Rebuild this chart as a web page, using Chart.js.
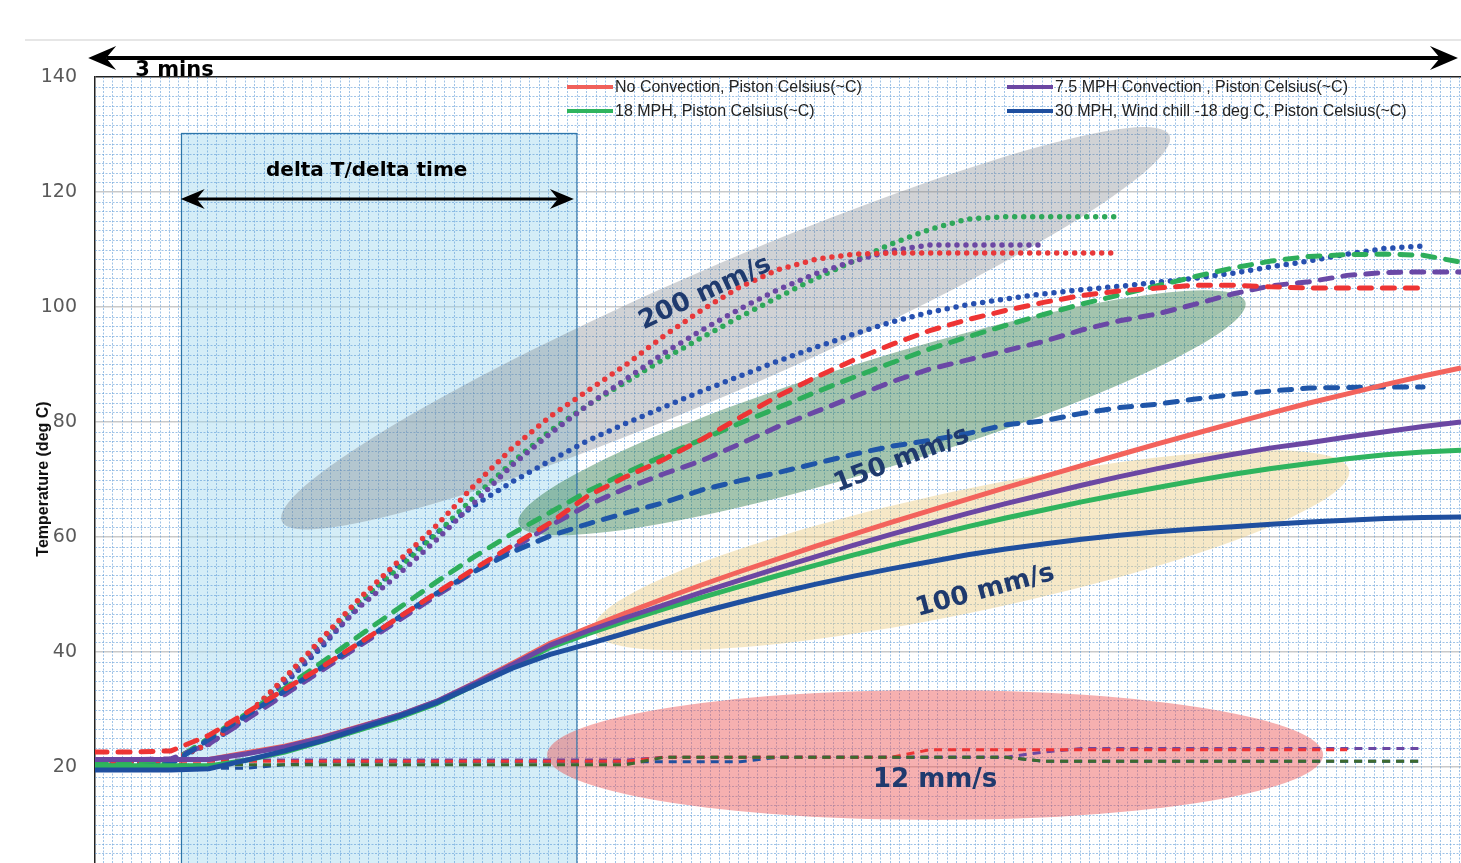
<!DOCTYPE html>
<html>
<head>
<meta charset="utf-8">
<script src="https://cdn.jsdelivr.net/npm/chart.js@4.4.1/dist/chart.umd.min.js"></script>
<style>
  html, body { margin: 0; padding: 0; background: #fff; overflow: hidden; }
  #wrap { width: 1461px; height: 900px; }
</style>
</head>
<body>
<div id="wrap"><canvas id="chart" width="1461" height="900"></canvas></div>
<script>
// time in seconds (the whole plot spans 3 minutes)
const seconds = [0,5,10,15,20,25,30,35,40,45,50,55,60,65,70,75,80,85,90,95,100,105,110,115,120,125,130,135,140,145,150,155,160,165,170,175,180];

// 100 mm/s (solid)
const red100    = [21.3,21.3,21.3,21.3,22.5,23.6,25.2,27.1,29,31.4,34.6,38,41.5,44.2,46.8,49.3,51.7,54,56.2,58.4,60.5,62.6,64.6,66.6,68.6,70.5,72.4,74.3,76.2,78,79.8,81.6,83.3,84.9,86.5,88,89.4];
const purple100 = [21.3,21.3,21.3,21.3,22.3,23.5,25.1,27,29,31.4,34.5,37.8,41.2,43.7,46,48.2,50.4,52.5,54.6,56.6,58.6,60.5,62.3,64.1,65.8,67.4,69,70.5,71.9,73.2,74.4,75.5,76.4,77.4,78.3,79.2,80];
const green100  = [20.2,20.2,20.2,20.2,21.2,22.6,24.5,26.5,28.6,31,34.2,37.4,40.8,43.2,45.4,47.5,49.5,51.4,53.3,55.1,56.9,58.6,60.2,61.8,63.3,64.7,66.1,67.4,68.6,69.8,70.9,71.9,72.8,73.6,74.3,74.8,75.1];
const blue100   = [19.5,19.5,19.5,19.7,21.2,22.8,24.6,26.7,28.8,31.2,34.2,37.2,39.6,41.4,43.3,45.2,47,48.7,50.3,51.8,53.2,54.5,55.7,56.9,57.9,58.8,59.6,60.3,60.9,61.4,61.8,62.2,62.6,62.9,63.2,63.4,63.5];

// 150 mm/s (dashed)
const red150    = [22.6,22.6,22.8,25.5,29.5,33.5,37.5,41.7,46,50.3,54.5,58.5,62.5,67.2,70.5,73.5,77,80.8,84.5,87.8,90.8,93.5,95.9,97.8,99.4,100.8,102,102.8,103.3,103.8,103.8,103.5,103.3,103.3,103.3,103.3,null];
const purple150 = [21.3,21.3,21.4,24,28.3,32.6,36.9,41.2,45.5,49.8,54,58,62,65.6,68.5,71,73.3,76.2,79.2,81.8,84.4,87,89.2,90.8,92.4,94,96,97.6,98.8,100.5,102.3,103.7,104.4,105.5,106,106.1,106.1];
const green150  = [20.5,20.5,20.8,25,29.3,33.7,38.3,43,47.6,52.2,56.6,60.6,64.3,68,71.2,74.2,77,79.8,82.5,85.2,87.8,90.3,92.7,94.8,96.8,98.7,100.5,102.1,103.7,105.3,106.8,108,108.8,109.1,109.2,109,107.8];
const blue150   = [20,20,20.5,24.8,29,33.2,37.4,41.6,46,50.2,54,57.4,60.2,62.3,64.2,66,68.2,69.8,71.2,72.8,74.4,75.8,76.8,78,79.5,80.2,81.5,82.5,83.1,84,84.8,85.4,85.9,86,86.1,86.1,null];

// 200 mm/s (dotted)
const red200    = [21,21,21.2,24,29,35.5,42.5,49.5,55.8,62,69,75.5,81,85.5,90,95,99.5,103.5,106.5,108.3,109.2,109.4,109.4,109.4,109.4,109.4,109.4,109.4,null,null,null,null,null,null,null,null,null];
const purple200 = [21,21,21.2,24,29,35,41.5,48,53.5,59.5,66,72.5,78,83,87.5,92,96,99.7,103,105.8,108,109.8,110.8,110.8,110.8,110.8,null,null,null,null,null,null,null,null,null,null,null];
const green200  = [21,21,21.2,24,29,35.3,42,49,54.5,60.5,67,73,78.5,83,87,91,94.7,98.3,101.7,105,108,111,113.5,115.3,115.7,115.7,115.7,115.7,null,null,null,null,null,null,null,null,null];
const blue200   = [20.8,20.8,21,24,28.5,34.5,41,48.4,55.2,60.7,65.5,69.6,73.3,76.8,79.8,82.6,85.4,88,90.6,93,95.3,97.4,99.1,100.4,101.4,102.3,103,103.6,104.3,105,105.9,107,108,109.2,110.2,110.6,null];

// 12 mm/s (thin dashed)
const red12     = [21,21,21,21,21,21,21,21,21,21,21,21,21,21,21,21.7,21.7,21.7,21.7,21.7,21.7,21.7,23,23,23,23,23,23,23,23,23,23,23,23,null,null,null];
const purple12  = [21.2,21.2,21.2,21.2,21.2,21.2,21.2,21.2,21.2,21.2,21.2,21.2,21.2,21.2,21.2,21.7,21.7,21.7,21.7,21.7,21.7,21.7,21.7,21.7,21.7,22.6,23.2,23.2,23.2,23.2,23.2,23.2,23.2,23.2,23.2,23.2,null];
const green12   = [20.4,20.4,20.4,20.4,20.4,20.4,20.4,20.4,20.4,20.4,20.4,20.4,20.4,20.4,20.4,21.7,21.7,21.7,21.7,21.7,21.7,21.7,21.7,21.7,21.7,21,21,21,21,21,21,21,21,21,21,21,null];
const blue12    = [19.8,19.8,19.8,19.8,19.8,20.4,20.9,20.9,20.9,20.9,20.9,20.9,20.9,20.9,20.9,20.9,20.9,20.9,21.7,21.7,21.7,21.7,21.7,21.7,21.7,21,21,21,21,21,21,21,21,21,21,21,null];

const yTicks = [0,20,40,60,80,100,120,140];
const legendLabels = [
  "No Convection, Piston Celsius(~C)",
  "7.5 MPH Convection , Piston Celsius(~C)",
  "18 MPH, Piston Celsius(~C)",
  "30 MPH, Wind chill -18 deg C, Piston Celsius(~C)"
];
const legendColors = ["#f0605a", "#6b47a3", "#2fb45e", "#1f4f9f"];
const zoneLabels = ["200 mm/s", "150 mm/s", "100 mm/s", "12 mm/s"];

const lineStyles = {
  solid:  { borderWidth: 5, borderDash: [], borderCapStyle: "butt" },
  dashed: { borderWidth: 5, borderDash: [12, 11], borderCapStyle: "round" },
  dotted: { borderWidth: 5.5, borderDash: [0, 9], borderCapStyle: "round" },
  thin:   { borderWidth: 3, borderDash: [8, 6], borderCapStyle: "butt" },
};

// first entry drawn on top
const seriesDefs = [
  { values: blue100,   color: "#1f4f9f", style: "solid" },
  { values: purple100, color: "#6b47a3", style: "solid" },
  { values: green100,  color: "#2fb45e", style: "solid" },
  { values: red100,    color: "#f3635c", style: "solid" },
  { values: red150,    color: "#ee3434", style: "dashed" },
  { values: blue150,   color: "#1f55a8", style: "dashed" },
  { values: purple150, color: "#6a48a6", style: "dashed" },
  { values: green150,  color: "#2eae5b", style: "dashed" },
  { values: red200,    color: "#e8383a", style: "dotted" },
  { values: purple200, color: "#6b47a3", style: "dotted" },
  { values: green200,  color: "#2ea85a", style: "dotted" },
  { values: blue200,   color: "#2750b0", style: "dotted" },
  { values: green12,   color: "#3e6a2e", style: "thin" },
  { values: red12,     color: "#ee3434", style: "thin" },
  { values: purple12,  color: "#6b47a3", style: "thin" },
  { values: blue12,    color: "#20509f", style: "thin" },
];

const datasets = seriesDefs.map(s => Object.assign({
  data: seconds.map((t, i) => ({ x: t, y: s.values[i] })).filter(p => p.y !== null),
  borderColor: s.color,
  pointRadius: 0,
  tension: 0,
  fill: false,
}, lineStyles[s.style]));

// annotation geometry, in data units (x seconds, y deg C) plus pixel radii
const windowBox = { x0: 11.3, x1: 63.4, top: 130.3 };
const ellipses = [
  { x: 83.1,  y: 96.3, rx: 484, ry: 62, angle: -23.5, color: "rgba(120,125,135,0.35)" },
  { x: 103.7, y: 81.6, rx: 380, ry: 54, angle: -17,   color: "rgba(50,125,75,0.45)" },
  { x: 115.5, y: 57.7, rx: 386, ry: 61, angle: -12,   color: "rgba(235,205,130,0.45)" },
  { x: 110.7, y: 22.1, rx: 388, ry: 65, angle: 0,     color: "rgba(235,80,80,0.45)" },
];
const zoneLabelPos = [
  { x: 80.4,  y: 102.4, angle: -25 },
  { x: 106.3, y: 73.4,  angle: -21 },
  { x: 117.3, y: 50.6,  angle: -15 },
  { x: 110.7, y: 17.7,  angle: 0 },
];

function arrowHead(ctx, tx, ty, dir, len, half, notch) {
  ctx.beginPath();
  ctx.moveTo(tx, ty);
  ctx.lineTo(tx + dir * len, ty - half);
  ctx.lineTo(tx + dir * notch, ty);
  ctx.lineTo(tx + dir * len, ty + half);
  ctx.closePath();
  ctx.fill();
}

function doubleArrow(ctx, x1, x2, yy, w, len, half, notch) {
  ctx.lineWidth = w;
  ctx.beginPath();
  ctx.moveTo(x1 + notch, yy);
  ctx.lineTo(x2 - notch, yy);
  ctx.stroke();
  arrowHead(ctx, x1, yy, 1, len, half, notch);
  arrowHead(ctx, x2, yy, -1, len, half, notch);
}

const decorPlugin = {
  id: "decor",
  beforeDatasetsDraw(chart) {
    const { ctx, chartArea: ca, scales: { x, y } } = chart;
    ctx.save();
    ctx.beginPath();
    ctx.rect(ca.left, ca.top, ca.right - ca.left, ca.bottom - ca.top);
    ctx.clip();

    // time window box
    const bx0 = x.getPixelForValue(windowBox.x0), bx1 = x.getPixelForValue(windowBox.x1);
    const by0 = y.getPixelForValue(windowBox.top);
    ctx.fillStyle = "rgba(160,215,238,0.45)";
    ctx.fillRect(bx0, by0, bx1 - bx0, ca.bottom - by0);

    // fine dotted grid
    ctx.strokeStyle = "rgba(95,155,215,0.6)";
    ctx.lineWidth = 1;
    ctx.setLineDash([2, 1.5]);
    ctx.beginPath();
    for (let k = 1; k < 84; k++) {
      if (k % 12 === 0) continue;
      const py = Math.round(y.getPixelForValue(k * 20 / 12)) + 0.5;
      ctx.moveTo(ca.left, py); ctx.lineTo(ca.right, py);
    }
    for (let t = 1; t <= 181; t += 1.25) {
      const px = Math.round(x.getPixelForValue(t)) + 0.5;
      ctx.moveTo(px, ca.top); ctx.lineTo(px, ca.bottom);
    }
    ctx.stroke();
    ctx.setLineDash([]);

    // speed zones
    ellipses.forEach(e => {
      ctx.fillStyle = e.color;
      ctx.beginPath();
      ctx.ellipse(x.getPixelForValue(e.x), y.getPixelForValue(e.y), e.rx, e.ry, e.angle * Math.PI / 180, 0, Math.PI * 2);
      ctx.fill();
    });

    ctx.strokeStyle = "#2e75a8";
    ctx.lineWidth = 1.2;
    ctx.strokeRect(Math.round(bx0) + 0.5, Math.round(by0) + 0.5, bx1 - bx0, ca.bottom - by0 + 10);
    ctx.restore();
  },
  afterDatasetsDraw(chart) {
    const { ctx, chartArea: ca, scales: { x, y } } = chart;
    ctx.save();

    // zone labels
    ctx.fillStyle = "#1f3a6e";
    ctx.font = "bold 26px 'DejaVu Sans'";
    ctx.textAlign = "center";
    ctx.textBaseline = "middle";
    zoneLabels.forEach((txt, i) => {
      const p = zoneLabelPos[i];
      ctx.save();
      ctx.translate(x.getPixelForValue(p.x), y.getPixelForValue(p.y));
      ctx.rotate(p.angle * Math.PI / 180);
      ctx.fillText(txt, 0, 0);
      ctx.restore();
    });

    // window annotation
    ctx.fillStyle = "#000";
    ctx.strokeStyle = "#000";
    ctx.font = "bold 20px 'DejaVu Sans'";
    ctx.textBaseline = "alphabetic";
    ctx.fillText("delta T/delta time", x.getPixelForValue(35.8), y.getPixelForValue(122.8));
    doubleArrow(ctx, x.getPixelForValue(windowBox.x0), x.getPixelForValue(63.1), y.getPixelForValue(118.8), 3, 24, 10, 16);

    // 3 minute span
    doubleArrow(ctx, x.getPixelForValue(-0.9), x.getPixelForValue(179.6), y.getPixelForValue(143.3), 4, 28, 12, 18);
    ctx.textAlign = "left";
    ctx.font = "bold 21px 'DejaVu Sans'";
    ctx.fillText("3 mins", x.getPixelForValue(5.3), y.getPixelForValue(140.2));

    // legend
    ctx.font = "16px 'Liberation Sans'";
    ctx.textBaseline = "middle";
    const cols = [ca.left + 472, ca.left + 912];
    const rows = [ca.top + 10, ca.top + 34];
    legendLabels.forEach((txt, i) => {
      const lx = cols[i % 2], ly = rows[Math.floor(i / 2)];
      ctx.strokeStyle = legendColors[i];
      ctx.lineWidth = 4;
      ctx.beginPath(); ctx.moveTo(lx, ly); ctx.lineTo(lx + 46, ly); ctx.stroke();
      ctx.fillStyle = "#222";
      ctx.fillText(txt, lx + 48, ly + 1);
    });

    // axis title
    ctx.save();
    ctx.translate(44, 479);
    ctx.rotate(-Math.PI / 2);
    ctx.font = "bold 16px 'Liberation Sans'";
    ctx.textAlign = "center";
    ctx.fillStyle = "#111";
    ctx.fillText("Temperature (deg C)", 0, 0);
    ctx.restore();

    // faint page rule at the top
    ctx.strokeStyle = "#e6e6e6";
    ctx.lineWidth = 2;
    ctx.beginPath(); ctx.moveTo(25, 40); ctx.lineTo(chart.width, 40); ctx.stroke();
    ctx.restore();
  }
};

new Chart(document.getElementById("chart").getContext("2d"), {
  type: "line",
  data: { datasets },
  options: {
    responsive: false,
    animation: false,
    layout: { padding: { top: 77, right: 0, bottom: 18, left: 0 } },
    scales: {
      x: { type: "linear", min: 0, max: 180, display: false },
      y: {
        min: yTicks[0],
        max: yTicks[yTicks.length - 1],
        afterBuildTicks: s => { s.ticks = yTicks.map(v => ({ value: v })); },
        afterFit: s => { s.width = 95; },
        ticks: { padding: 0, color: "#5a5a5a", font: { family: "DejaVu Sans", size: 19 } },
        grid: {
          drawTicks: true,
          tickLength: 18,
          tickColor: "rgba(0,0,0,0)",
          color: c => (c.tick && c.tick.value === 140 ? "#222" : "#c9c9c9"),
          lineWidth: 1.5,
        },
        border: { color: "#222", width: 1.5 },
      },
    },
    plugins: { legend: { display: false }, tooltip: { enabled: false } },
  },
  plugins: [decorPlugin],
});
</script>
</body>
</html>
